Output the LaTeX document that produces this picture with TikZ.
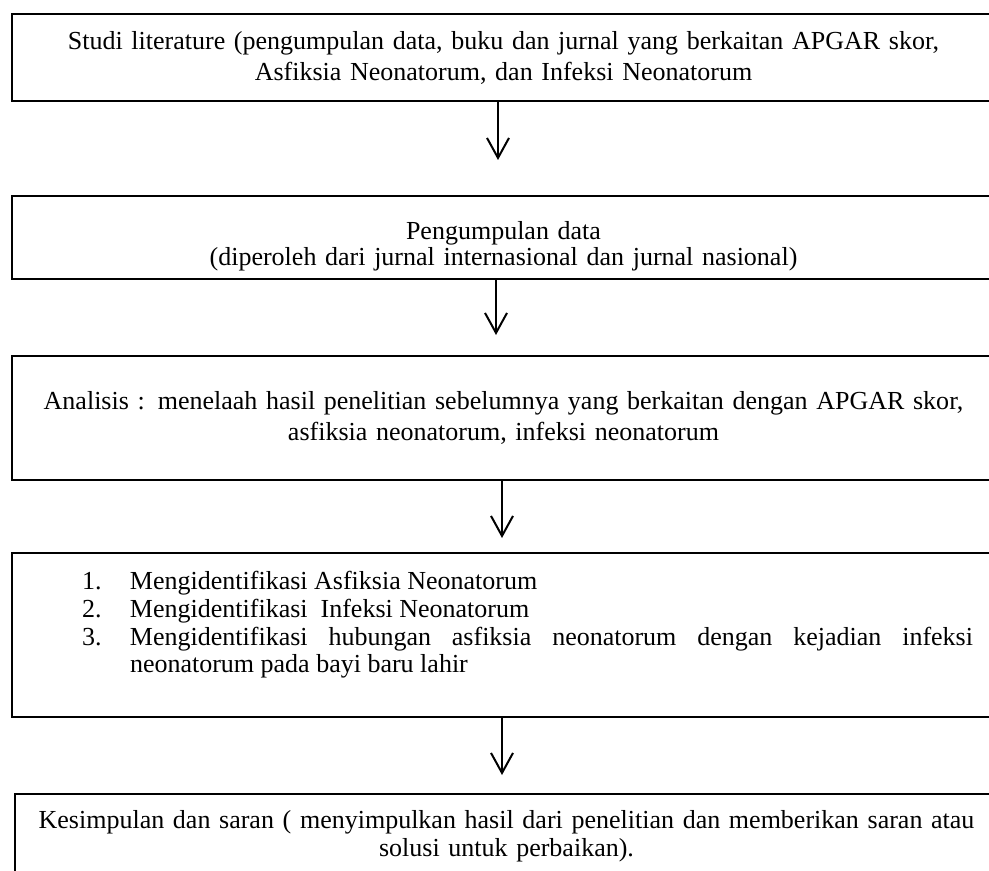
\documentclass[tikz,border=0pt]{standalone}
\usepackage{fontspec}
\setmainfont{Liberation Serif}
\usetikzlibrary{arrows.meta,positioning,calc}
\newcommand{\itemno}[1]{\hangindent=24pt\hangafter=1\noindent\makebox[24pt][l]{#1}}

\begin{document}
\begin{tikzpicture}[
  x=0.5pt, y=-0.5pt,
  line width=1pt,
  stepbox/.style={
    draw,
    rectangle,
    minimum width=491.5pt,
    text width=475pt,
    inner sep=0pt,
    outer sep=0pt,
    align=center,
    font=\fontsize{13}{15.5}\selectfont
    },
  flow/.style={
    -{Straight Barb[length=10pt,width=11pt]},
    line width=1pt
  }
]
\clip (0,0) rectangle (989,871);

\node[stepbox, minimum height=43.5pt, anchor=north west]
  (studi) at (12,14)
  {Studi literature (pengumpulan data, buku dan jurnal yang berkaitan APGAR skor,\\
   Asfiksia Neonatorum, dan Infeksi Neonatorum};
\node[stepbox, minimum height=41.5pt, below=47.5pt of studi,
  font=\fontsize{13}{13}\selectfont]
  (data)
  {Pengumpulan data\\
   (diperoleh dari jurnal internasional dan jurnal nasional)\par
   \kern-9pt};
\node[stepbox, minimum height=62pt, below=38.5pt of data]
  (analisis)
  {Analisis : menelaah hasil penelitian sebelumnya yang berkaitan dengan APGAR skor,\\
   asfiksia neonatorum, infeksi neonatorum};
\node[stepbox, minimum height=82pt, below=36.5pt of analisis,
  text width=469.5pt, align=justify, font=\fontsize{13}{13.8}\selectfont]
  (identifikasi)
  {\leftskip=24pt
   \itemno{1.}Mengidentifikasi Asfiksia Neonatorum\par
   \itemno{2.}Mengidentifikasi~~Infeksi Neonatorum\par
   \itemno{3.}Mengidentifikasi hubungan asfiksia neonatorum dengan kejadian infeksi\linebreak
   neonatorum pada bayi baru lahir\par
   \kern10pt};
\node[stepbox, minimum height=42pt, below=38.5pt of identifikasi, xshift=1.5pt,
  font=\fontsize{13}{14}\selectfont]
  (simpulan)
  {Kesimpulan dan saran ( menyimpulkan hasil dari penelitian dan memberikan saran atau\\
   solusi untuk perbaikan).};

\coordinate (e1) at (498,160);
\coordinate (e2) at (496,335);
\coordinate (e3) at (502,538);
\coordinate (e4) at (502,775);
\draw[flow] (studi.south -| e1) -- (e1);
\draw[flow] (data.south -| e2) -- (e2);
\draw[flow] (analisis.south -| e3) -- (e3);
\draw[flow] (identifikasi.south -| e4) -- (e4);

\end{tikzpicture}
\end{document}
